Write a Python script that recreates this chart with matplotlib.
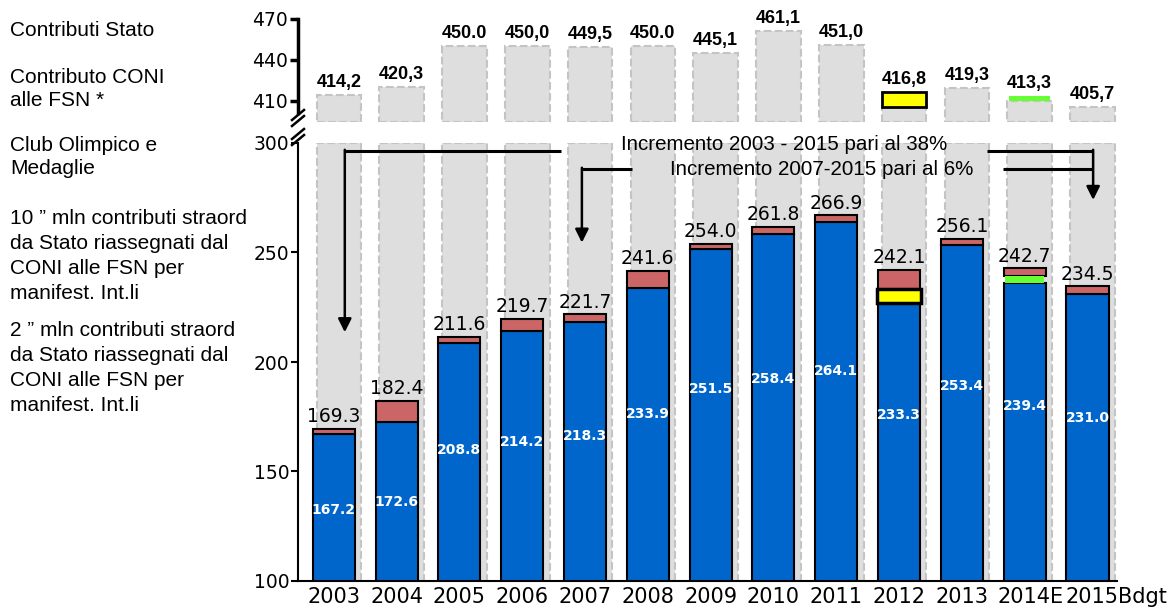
import numpy as np
import matplotlib
matplotlib.use("Agg")
import matplotlib.pyplot as plt
import matplotlib.transforms as mtrans
from matplotlib.lines import Line2D

# dati (mln euro)
anni = ['2003', '2004', '2005', '2006', '2007', '2008', '2009', '2010',
        '2011', '2012', '2013', '2014E', '2015Bdgt']
contributi_stato = [414.2, 420.3, 450.0, 450.0, 449.5, 450.0, 445.1, 461.1,
                    451.0, 416.8, 419.3, 413.3, 405.7]
contributi_stato_lbl = ['414,2', '420,3', '450.0', '450,0', '449,5', '450.0', '445,1',
                        '461,1', '451,0', '416,8', '419,3', '413,3', '405,7']
coni_fsn = [167.2, 172.6, 208.8, 214.2, 218.3, 233.9, 251.5, 258.4,
            264.1, 233.3, 253.4, 239.4, 231.0]
totale = [169.3, 182.4, 211.6, 219.7, 221.7, 241.6, 254.0, 261.8,
          266.9, 242.1, 256.1, 242.7, 234.5]
# contributi straordinari (10 mln nel 2012, 2 mln nel 2014), altezze
straord_alto = [0, 0, 0, 0, 0, 0, 0, 0, 0, 11, 0, 3.5, 0]
straord_basso = [0, 0, 0, 0, 0, 0, 0, 0, 0, 6.3, 0, 3.3, 0]
col_straord = ['none'] * 9 + ['#FFFF00', 'none', '#66FF33', 'none']

x = np.arange(len(anni))
xg = x + 0.08
stato = np.array(contributi_stato)
coni = np.array(coni_fsn)
tot = np.array(totale)
s_alto = np.array(straord_alto)
s_basso = np.array(straord_basso)

W, H = 1173, 612
fig = plt.figure(figsize=(W / 100, H / 100), dpi=100)
ax = fig.add_axes([298 / W, 31 / H, 819 / W, 438 / H])
axt = fig.add_axes([298 / W, 1 - 122 / H, 819 / W, 103 / H])

gray = '#DEDEDE'
gray_edge = '#C4C4C4'

# --- grafico inferiore ---
ax.bar(xg, 200, bottom=100, width=0.71, color=gray, edgecolor=gray_edge,
       linestyle='--', lw=1.5, zorder=1)
ax.bar(x, coni - s_basso, width=0.67, color='#0066CC', edgecolor='k', lw=1.5, zorder=2)
ax.bar(x, tot - coni, bottom=coni, width=0.67, color='#CC6666', edgecolor='k', lw=1.5, zorder=2)
for i in range(len(x)):
    if s_basso[i] == 0:
        continue
    if straord_alto[i] >= 10:
        ax.bar(x[i], s_basso[i], bottom=coni[i] - s_basso[i], width=0.71,
               color=col_straord[i], edgecolor='k', lw=2.5, zorder=3)
    else:
        ax.bar(x[i], s_basso[i], bottom=coni[i] - s_basso[i], width=0.62,
               color=col_straord[i], lw=0, zorder=3)

for i in range(len(x)):
    ax.annotate(f'{tot[i]:.1f}', (x[i], tot[i]), xytext=(0, 2), textcoords='offset points',
                ha='center', va='bottom', fontsize=13.5, family='DejaVu Sans', zorder=5)
    ax.text(x[i], 0.655 * coni[i] + 23, f'{coni[i]:.1f}', ha='center', va='center',
            color='white', fontsize=10, fontweight='bold', family='DejaVu Sans', zorder=5)

ax.set_xlim(-0.57, 12.47)
ax.set_ylim(100, 300)
ax.set_yticks([100, 150, 200, 250, 300])
ax.set_xticks(x)
ax.set_xticklabels(anni, family='DejaVu Sans', fontsize=15)
ax.tick_params(axis='x', length=0, pad=4)
ax.tick_params(axis='y', length=5, width=1.5, labelsize=13.5, pad=1)
# le ultime etichette sono spostate a destra come nell'originale
tl = ax.get_xticklabels()
tl[-2].set_transform(tl[-2].get_transform() + mtrans.ScaledTranslation(6 / 100, 0, fig.dpi_scale_trans))
tl[-1].set_transform(tl[-1].get_transform() + mtrans.ScaledTranslation(29 / 100, 0, fig.dpi_scale_trans))
for s in ['top', 'right']:
    ax.spines[s].set_visible(False)
ax.spines['left'].set_linewidth(1.5)
ax.spines['bottom'].set_linewidth(1.5)

# frecce incremento
y1, y2 = 296.4, 288.2
kw = dict(color='k', lw=2.2, clip_on=False, zorder=6, solid_capstyle='butt')
ax.plot([0.175, 3.61], [y1, y1], **kw)
ax.plot([10.4, 12.09], [y1, y1], **kw)
ax.plot([4.75, 3.95], [y2, y2], **kw)
ax.plot([10.65, 12.09], [y2, y2], **kw)
arr = dict(arrowstyle='-|>', color='k', lw=1.8, mutation_scale=20, shrinkA=0, shrinkB=0)
ax.annotate('', xy=(0.175, 213.6), xytext=(0.175, y1 + 0.5), arrowprops=arr, annotation_clip=False, zorder=6)
ax.annotate('', xy=(3.95, 254.5), xytext=(3.95, y2 + 0.5), arrowprops=arr, annotation_clip=False, zorder=6)
ax.annotate('', xy=(12.09, 274), xytext=(12.09, y1 + 0.5), arrowprops=arr, annotation_clip=False, zorder=6)
ax.text(7.17, 299.3, 'Incremento 2003 - 2015 pari al 38%', ha='center', va='center',
        fontsize=14.8, family='Liberation Sans', zorder=6, clip_on=False)
ax.text(7.77, 287.9, 'Incremento 2007-2015 pari al 6%', ha='center', va='center',
        fontsize=14.8, family='Liberation Sans', zorder=6, clip_on=False)

# --- grafico superiore ---
lo = 394.6
axt.bar(xg, stato - s_alto - lo, bottom=lo, width=0.71, color=gray, edgecolor=gray_edge,
        linestyle='--', lw=1.5, zorder=1)
for i in range(len(x)):
    if s_alto[i] == 0:
        continue
    if s_alto[i] >= 10:
        axt.bar(xg[i], s_alto[i], bottom=stato[i] - s_alto[i], width=0.71,
                color=col_straord[i], edgecolor='k', lw=2, zorder=2)
    else:
        axt.bar(xg[i], s_alto[i], bottom=stato[i] - s_alto[i], width=0.66,
                color=col_straord[i], lw=0, zorder=2)
for i in range(len(x)):
    axt.annotate(contributi_stato_lbl[i], (xg[i], stato[i]), xytext=(0, 3),
                 textcoords='offset points', ha='center', va='bottom', fontsize=13,
                 fontweight='bold', family='Liberation Sans', annotation_clip=False)
axt.set_xlim(-0.57, 12.47)
axt.set_ylim(lo, 470)
axt.set_yticks([410, 440, 470])
axt.set_xticks([])
axt.tick_params(axis='y', length=6, width=2.5, labelsize=13.5, pad=1)
for s in ['top', 'right', 'bottom']:
    axt.spines[s].set_visible(False)
axt.spines['left'].set_linewidth(2.5)
axt.spines['left'].set_bounds(401, 470)
axt.patch.set_alpha(0)

# segni di interruzione asse
for yc in [118, 137]:
    for dy in [-3, 3]:
        yy = yc + dy
        fig.add_artist(Line2D([292 / W, 304 / W], [1 - (yy + 5) / H, 1 - (yy - 5) / H],
                              color='k', lw=1.8))

# etichette a sinistra
left_txt = [
    (31, 'Contributi Stato', 1.3),
    (89, 'Contributo CONI\nalle FSN *', 1.3),
    (157, 'Club Olimpico e\nMedaglie', 1.3),
    (256, '10 \u201d mln contributi straord\nda Stato riassegnati dal\nCONI alle FSN per\nmanifest. Int.li', 1.38),
    (368, '2 \u201d mln contributi straord\nda Stato riassegnati dal\nCONI alle FSN per\nmanifest. Int.li', 1.38),
]
for yp, t, ls in left_txt:
    fig.text(10 / W, 1 - yp / H, t, ha='left', va='center', fontsize=15,
             family='Liberation Sans', linespacing=ls)

fig.savefig('out.png', dpi=100)
